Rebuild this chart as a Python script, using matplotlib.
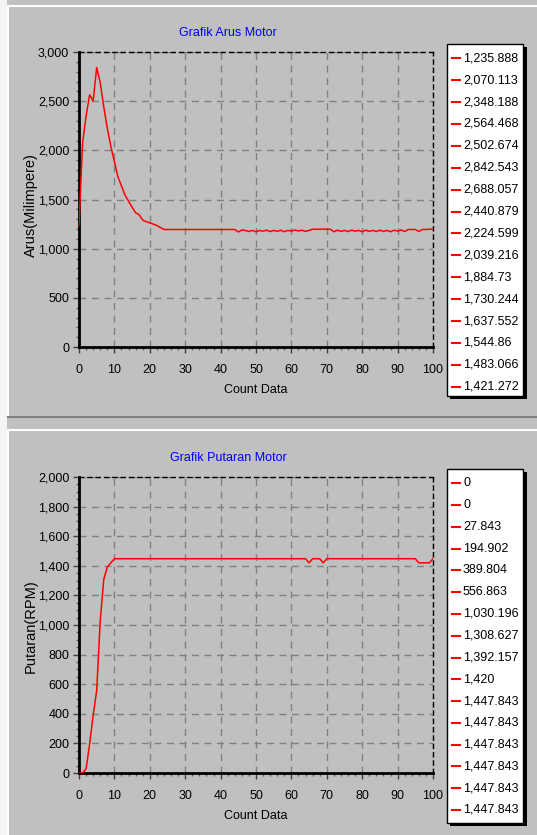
import matplotlib
matplotlib.use("Agg")
import matplotlib.pyplot as plt
from matplotlib.patches import Rectangle
from matplotlib.lines import Line2D
from matplotlib.ticker import MultipleLocator, FuncFormatter

W, H = 537, 835

plt.rcParams['font.family'] = ['Liberation Sans', 'DejaVu Sans']

# data, one value per count
count = list(range(101))

arus = [1235.888, 2070.113, 2348.188, 2564.468, 2502.674, 2842.543, 2688.057, 2440.879,
        2224.599, 2039.216, 1884.73, 1730.244, 1637.552, 1544.86, 1483.066, 1421.272,
        1365, 1345, 1290, 1275, 1262, 1250, 1235, 1215, 1195] + [1195] * 20 + \
       [1170, 1190, 1185, 1175, 1185, 1172, 1185, 1178, 1188, 1174,
        1186, 1176, 1188, 1172, 1186, 1178, 1190, 1180, 1188, 1176,
        1186, 1198, 1198, 1198, 1198, 1198, 1198, 1172, 1188, 1176,
        1186, 1174, 1188, 1178, 1186, 1172, 1188, 1176, 1186, 1174,
        1188, 1176, 1186, 1172, 1188, 1178, 1190, 1174, 1195, 1195,
        1195, 1175, 1195, 1195, 1198, 1198]

putaran = [0, 0, 27.843, 194.902, 389.804, 556.863, 1030.196, 1308.627, 1392.157, 1420] + \
          [1447.843] * 55 + [1420] + [1447.843] * 3 + [1420] + [1447.843] * 26 + \
          [1420] * 4 + [1447.843]

GRAY = '#c0c0c0'


def fx(x):
    return x / W


def fy(y):
    return 1 - y / H


def fmt_num(v):
    return f"{v:,.3f}".rstrip('0').rstrip('.')


fig = plt.figure(figsize=(W / 100, H / 100), dpi=100, facecolor=GRAY)

# window decoration
fig.patches.append(Rectangle((0, 0), fx(7), 1, transform=fig.transFigure,
                             facecolor='#f4f4f4', edgecolor='none'))
for (x0, y0, x1, y1, c) in [(8, 6, 537, 6, 'white'), (8, 6, 8, 417, 'white'),
                            (8, 417, 537, 417, '#808080'),
                            (8, 430, 537, 430, 'white'), (8, 430, 8, 835, 'white')]:
    fig.add_artist(Line2D([fx(x0), fx(x1)], [fy(y0), fy(y1)], transform=fig.transFigure,
                          color=c, lw=1.5))


def panel(top, bottom, ymax, ymaj, ymin, data, title, ylabel, title_y, yl_y, xl_y,
          leg_top, leg_bot, e0, e1):
    ax = fig.add_axes([fx(79), fy(bottom), fx(433) - fx(79), fy(top) - fy(bottom)])
    ax.set_facecolor(GRAY)
    ax.plot(count, data, color='#ff0000', lw=1.1, zorder=3)
    ax.set_xlim(0, 100)
    ax.set_ylim(0, ymax)
    ax.xaxis.set_major_locator(MultipleLocator(10))
    ax.xaxis.set_minor_locator(MultipleLocator(2))
    ax.yaxis.set_major_locator(MultipleLocator(ymaj))
    ax.yaxis.set_minor_locator(MultipleLocator(ymin))
    ax.yaxis.set_major_formatter(FuncFormatter(lambda v, p: f"{int(v):,}"))
    ax.grid(True, which='major', color='#808080', linestyle=(0, (5, 4)), lw=1)
    for s in ['top', 'right']:
        ax.spines[s].set_linestyle((0, (3, 3)))
        ax.spines[s].set_linewidth(1)
        ax.spines[s].set_color('black')
    for s in ['left', 'bottom']:
        ax.spines[s].set_linewidth(2)
        ax.spines[s].set_color('black')
    ax.tick_params(which='major', direction='out', length=4, width=1, color='#404040',
                   labelsize=9, pad=3)
    ax.tick_params(which='minor', direction='out', length=2, width=1, color='#606060')
    ax.tick_params(axis='x', pad=8)

    fig.text(fx(228), fy(title_y), title, color='#0000ff', fontsize=9,
             ha='center', va='center')
    fig.text(fx(256), fy(xl_y), 'Count Data', fontsize=9, ha='center', va='center')
    fig.text(fx(31), fy(yl_y), ylabel, fontsize=10.5, rotation=90,
             ha='center', va='center')

    # legend box with shadow
    fig.patches.append(Rectangle((fx(450), fy(leg_bot + 3)), fx(527) - fx(450),
                                 fy(leg_top + 3) - fy(leg_bot + 3),
                                 transform=fig.transFigure, facecolor='black',
                                 edgecolor='none'))
    fig.patches.append(Rectangle((fx(447), fy(leg_bot)), fx(523) - fx(447),
                                 fy(leg_top) - fy(leg_bot),
                                 transform=fig.transFigure, facecolor='white',
                                 edgecolor='black', lw=1))
    step = (e1 - e0) / 15
    for i, v in enumerate(data[:16]):
        y = e0 + i * step
        fig.add_artist(Line2D([fx(452), fx(460)], [fy(y), fy(y)],
                              transform=fig.transFigure, color='#ff0000', lw=1.5))
        fig.text(fx(463), fy(y), fmt_num(v), fontsize=9, ha='left', va='center')
    return ax


panel(52, 347, 3000, 500, 100, arus, 'Grafik Arus Motor', 'Arus(Milimpere)',
      33, 205, 390, 44, 396, 58.3, 386.7)
panel(477, 773, 2000, 200, 50, putaran, 'Grafik Putaran Motor', 'Putaran(RPM)',
      458, 626, 816, 469, 823, 483.3, 810)

fig.savefig('out.png', dpi=100, facecolor=GRAY)
